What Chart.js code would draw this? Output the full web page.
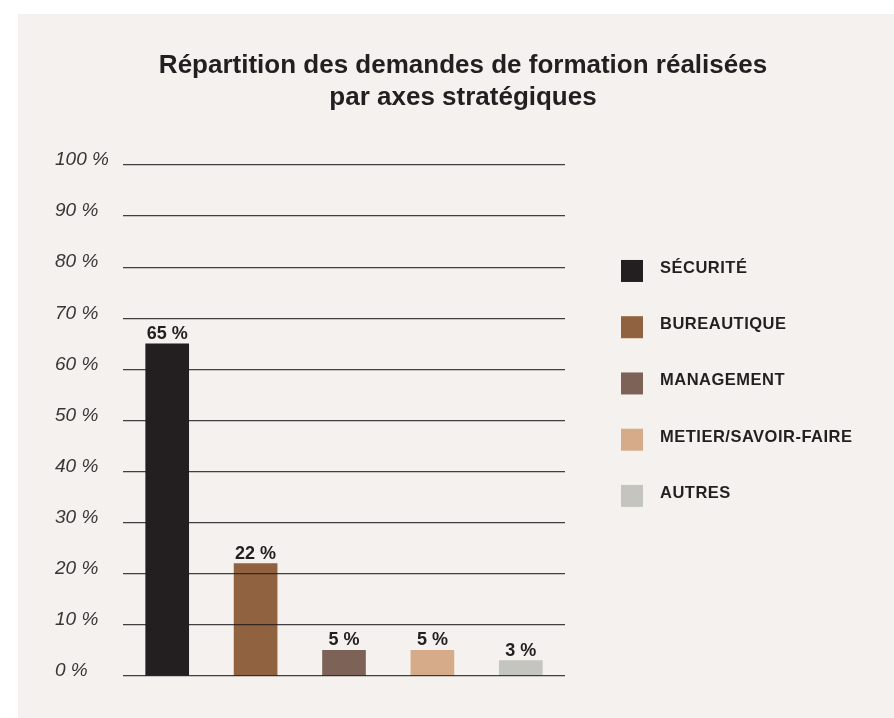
<!DOCTYPE html>
<html lang="fr">
<head>
  <meta charset="UTF-8">
  <title>Répartition des demandes de formation</title>
  <script src="https://cdn.jsdelivr.net/npm/chart.js"></script>
  <style>
    body { margin: 0; background: #ffffff; }
    #panel { position: absolute; left: 18px; top: 14px; width: 876px; height: 704px; background: #f5f1ee; }
    canvas { display: block; }
  </style>
</head>
<body>
  <div id="panel">
    <canvas id="chart" width="876" height="704"></canvas>
  </div>

  <script>
    // données
    const categories = ['SÉCURITÉ', 'BUREAUTIQUE', 'MANAGEMENT', 'METIER/SAVOIR-FAIRE', 'AUTRES'];
    const values = [65, 22, 5, 5, 3];
    const barColors = ['#231f20', '#91623f', '#7d6357', '#d5ab89', '#c5c5c0'];
    const titleLines = ['Répartition des demandes de formation réalisées', 'par axes stratégiques'];

    const fontFamily = "'Liberation Sans', Helvetica, Arial, sans-serif";
    const textColor = '#231f20';

    // étiquettes de valeur au-dessus des barres
    const valueLabels = {
      id: 'valueLabels',
      afterDraw(chart) {
        const ctx = chart.ctx;
        const meta = chart.getDatasetMeta(0);
        ctx.save();
        ctx.font = 'bold 18px ' + fontFamily;
        ctx.fillStyle = textColor;
        ctx.textAlign = 'center';
        ctx.textBaseline = 'alphabetic';
        meta.data.forEach((bar, i) => {
          ctx.fillText(values[i] + ' %', bar.x, bar.y - 5);
        });
        ctx.restore();
      }
    };

    // légende à droite (carrés + libellés)
    const sideLegend = {
      id: 'sideLegend',
      afterDraw(chart) {
        const ctx = chart.ctx;
        const area = chart.chartArea;
        const boxX = area.right + 56;
        const firstRow = area.top + 106;
        const rowGap = 56.25;
        ctx.save();
        ctx.font = 'bold 16.5px ' + fontFamily;
        ctx.letterSpacing = '0.5px';
        ctx.textAlign = 'left';
        ctx.textBaseline = 'alphabetic';
        categories.forEach((name, i) => {
          const cy = firstRow + i * rowGap;
          ctx.fillStyle = barColors[i];
          ctx.fillRect(boxX, cy - 11, 22, 22);
          ctx.fillStyle = textColor;
          ctx.fillText(name, boxX + 39, cy + 2);
        });
        ctx.restore();
      }
    };

    const chart = new Chart(document.getElementById('chart'), {
      type: 'bar',
      data: {
        labels: categories,
        datasets: [{
          data: values,
          backgroundColor: barColors,
          borderWidth: 0,
          barThickness: 43
        }]
      },
      options: {
        responsive: false,
        animation: false,
        layout: { padding: { left: 37, right: 23, top: 0, bottom: 42 } },
        plugins: {
          legend: { display: false },
          tooltip: { enabled: false },
          title: {
            display: true,
            text: titleLines,
            color: textColor,
            font: { family: fontFamily, size: 26, weight: 'bold', lineHeight: 1.23 },
            padding: { top: 36, bottom: 51 }
          }
        },
        scales: {
          x: { display: false },
          y: {
            min: 0,
            max: 100,
            border: { display: false },
            grid: { color: 'rgba(35,31,32,0.85)', lineWidth: 1.2, drawTicks: false, z: 1 },
            ticks: {
              stepSize: 10,
              crossAlign: 'far',
              labelOffset: -5,
              color: '#3b3536',
              font: { family: fontFamily, size: 19, style: 'italic' },
              callback: v => v + ' %'
            },
            afterFit(scale) { scale.width = 68; }
          },
          // axe invisible qui réserve la place de la légende
          side: {
            position: 'right',
            display: true,
            grid: { display: false },
            border: { display: false },
            ticks: { display: false },
            afterFit(scale) { scale.width = 306; }
          }
        }
      },
      plugins: [valueLabels, sideLegend]
    });
  </script>
</body>
</html>
